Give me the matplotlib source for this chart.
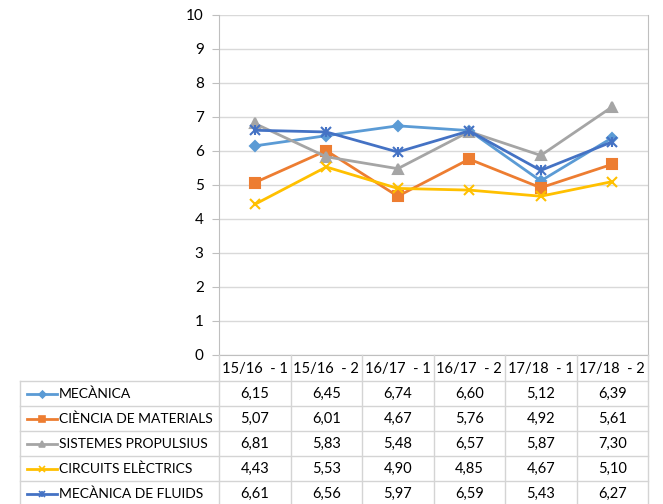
import matplotlib.pyplot as plt
from matplotlib.lines import Line2D

plt.rcParams['font.family'] = ['Lato', 'DejaVu Sans']

periodes = ["15/16  - 1", "15/16  - 2", "16/17  - 1", "16/17  - 2", "17/18  - 1", "17/18  - 2"]

mecanica = [6.15, 6.45, 6.74, 6.60, 5.12, 6.39]
ciencia_materials = [5.07, 6.01, 4.67, 5.76, 4.92, 5.61]
sistemes_propulsius = [6.81, 5.83, 5.48, 6.57, 5.87, 7.30]
circuits_electrics = [4.43, 5.53, 4.90, 4.85, 4.67, 5.10]
mecanica_fluids = [6.61, 6.56, 5.97, 6.59, 5.43, 6.27]

noms = ["MECÀNICA", "CIÈNCIA DE MATERIALS", "SISTEMES PROPULSIUS",
        "CIRCUITS ELÈCTRICS", "MECÀNICA DE FLUIDS"]
series = [mecanica, ciencia_materials, sistemes_propulsius,
          circuits_electrics, mecanica_fluids]
colors = ["#5B9BD5", "#ED7D31", "#A5A5A5", "#FFC000", "#4472C4"]
markers = ["D", "s", "^", "x", "x"]
msizes = [5, 7, 7, 7, 7]

W, H = 663, 504
fig = plt.figure(figsize=(W / 100, H / 100), dpi=100)

# plot area in pixels
left, right, top, bottom = 219, 648, 15, 355
ax = fig.add_axes([left / W, 1 - bottom / H, (right - left) / W, (bottom - top) / H])

x = list(range(len(periodes)))
for vals, c, m, ms in zip(series, colors, markers, msizes):
    ax.plot(x, vals, color=c, lw=2, marker=m, ms=ms, mec=c, mfc=c, mew=1.5)
# asterisk marker for the last series
ax.plot(x, mecanica_fluids, ls='none', marker='|', ms=7, mec=colors[4], mew=1.5)

ax.set_xlim(-0.5, len(periodes) - 0.5)
ax.set_ylim(0, 10)
ax.set_yticks(range(0, 11))
ax.set_xticks([])
ax.grid(axis='y', color='#D9D9D9', lw=1)
ax.set_axisbelow(True)
ax.spines['top'].set_visible(False)
for s in ['right', 'left', 'bottom']:
    ax.spines[s].set_color('#BFBFBF')
ax.tick_params(axis='y', length=5, color='#BFBFBF', labelsize=11, pad=6, labelcolor='black')

# data table under the plot
ov = fig.add_axes([0, 0, 1, 1], facecolor='none')
ov.set_xlim(0, W)
ov.set_ylim(H, 0)
ov.axis('off')

gc = '#D4D4D4'
tleft = 20
hdr_bottom = 381
rowh = 25
ncol = len(periodes)
colw = (right - left) / ncol
nrow = len(noms)
tbottom = hdr_bottom + rowh * nrow

for j in range(ncol + 1):
    xx = left + j * colw
    ov.plot([xx, xx], [bottom, tbottom], color=gc, lw=1)
ov.plot([tleft, tleft], [hdr_bottom, tbottom], color=gc, lw=1)
for i in range(nrow + 1):
    yy = hdr_bottom + i * rowh
    ov.plot([tleft, right], [yy, yy], color=gc, lw=1)

for j, p in enumerate(periodes):
    ov.text(left + (j + 0.5) * colw, (bottom + hdr_bottom) / 2 + 1, p,
            ha='center', va='center', fontsize=10.5)

for i, (nom, vals, c, m, ms) in enumerate(zip(noms, series, colors, markers, msizes)):
    yc = hdr_bottom + (i + 0.5) * rowh
    ov.add_line(Line2D([27, 57], [yc, yc], color=c, lw=2))
    ov.plot([42], [yc], marker=m, ms=ms * 0.7, color=c, mew=1.2)
    if i == 4:
        ov.plot([42], [yc], marker='|', ms=ms * 0.7, color=c, mew=1.2)
    ov.text(59, yc, nom, ha='left', va='center', fontsize=10)
    for j, v in enumerate(vals):
        ov.text(left + (j + 0.5) * colw, yc, f"{v:.2f}".replace('.', ','),
                ha='center', va='center', fontsize=10.5)

fig.savefig('out.png', dpi=100)
